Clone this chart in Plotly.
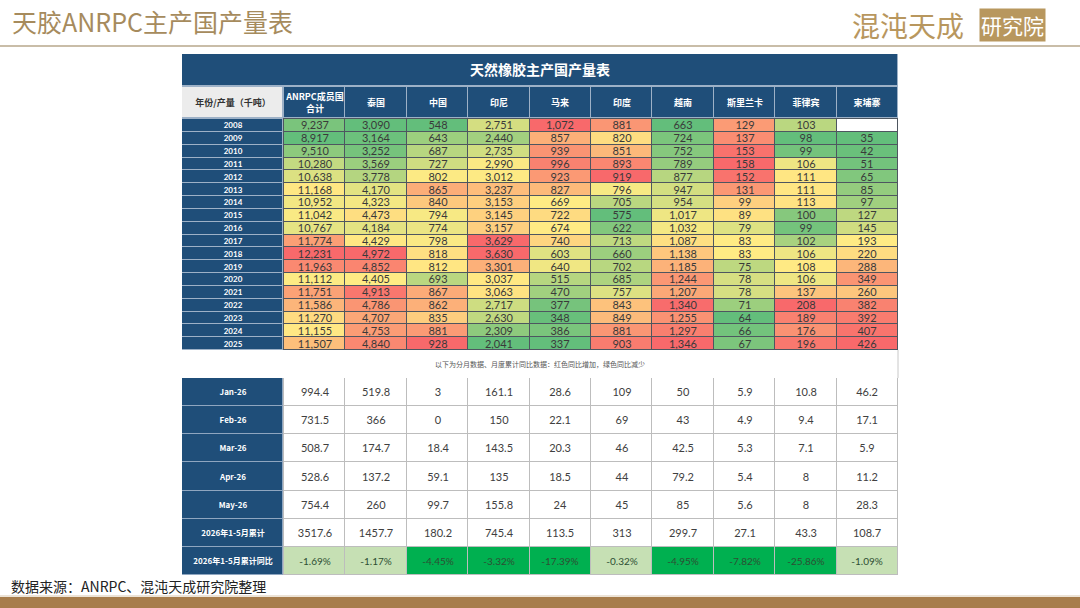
import numpy as np
import plotly.graph_objects as go

# ---- dados (mil toneladas) ----
paises = ["ANRPC成员国<br>合计", "泰国", "中国", "印尼", "马来", "印度", "越南", "斯里兰卡", "菲律宾", "柬埔寨"]
anos = [str(a) for a in range(2008, 2026)]

anrpc = [9237, 8917, 9510, 10280, 10638, 11168, 10952, 11042, 10767, 11774, 12231, 11963, 11112, 11751, 11586, 11270, 11155, 11507]
tailandia = [3090, 3164, 3252, 3569, 3778, 4170, 4323, 4473, 4184, 4429, 4972, 4852, 4405, 4913, 4786, 4707, 4753, 4840]
china = [548, 643, 687, 727, 802, 865, 840, 794, 774, 798, 818, 812, 693, 867, 862, 835, 881, 928]
indonesia = [2751, 2440, 2735, 2990, 3012, 3237, 3153, 3145, 3157, 3629, 3630, 3301, 3037, 3063, 2717, 2630, 2309, 2041]
malasia = [1072, 857, 939, 996, 923, 827, 669, 722, 674, 740, 603, 640, 515, 470, 377, 348, 386, 337]
india = [881, 820, 851, 893, 919, 796, 705, 575, 622, 713, 660, 702, 685, 757, 843, 849, 881, 903]
vietna = [663, 724, 752, 789, 877, 947, 954, 1017, 1032, 1087, 1138, 1185, 1244, 1207, 1340, 1255, 1297, 1346]
sri_lanka = [129, 137, 153, 158, 152, 131, 99, 89, 79, 83, 83, 75, 78, 78, 71, 64, 66, 67]
filipinas = [103, 98, 99, 106, 111, 111, 113, 100, 99, 102, 106, 108, 106, 137, 208, 189, 176, 196]
camboja = [None, 35, 42, 51, 65, 85, 97, 127, 145, 193, 220, 288, 349, 260, 382, 392, 407, 426]

colunas = [anrpc, tailandia, china, indonesia, malasia, india, vietna, sri_lanka, filipinas, camboja]

meses = ["Jan-26", "Feb-26", "Mar-26", "Apr-26", "May-26", "2026年1-5月累计"]
linha_yoy = "2026年1-5月累计同比"
mensal = [
    [994.4, 519.8, 3, 161.1, 28.6, 109, 50, 5.9, 10.8, 46.2],
    [731.5, 366, 0, 150, 22.1, 69, 43, 4.9, 9.4, 17.1],
    [508.7, 174.7, 18.4, 143.5, 20.3, 46, 42.5, 5.3, 7.1, 5.9],
    [528.6, 137.2, 59.1, 135, 18.5, 44, 79.2, 5.4, 8, 11.2],
    [754.4, 260, 99.7, 155.8, 24, 45, 85, 5.6, 8, 28.3],
    [3517.6, 1457.7, 180.2, 745.4, 113.5, 313, 299.7, 27.1, 43.3, 108.7],
]
yoy = [-1.69, -1.17, -4.45, -3.32, -17.39, -0.32, -4.95, -7.82, -25.86, -1.09]

nota = "以下为分月数据、月度累计同比数据：红色同比增加，绿色同比减少"

AZUL = "#1F4E79"
ESCALA = [[0, "#63BE7B"], [0.5, "#FFEB84"], [1, "#F8696B"]]
W, H = 1080, 608


def px_x(p):
    return p / W


def px_y(p):
    return 1 - p / H


def normaliza(col):
    # escala de 3 cores do Excel: min -> 0, mediana -> 0.5, max -> 1
    v = np.array([np.nan if c is None else c for c in col], dtype=float)
    lo, med, hi = np.nanmin(v), np.nanpercentile(v, 50), np.nanmax(v)
    return np.where(v <= med, 0.5 * (v - lo) / (med - lo), 0.5 + 0.5 * (v - med) / (hi - med))


n = len(paises)
z_anos = np.array([normaliza(c) for c in colunas]).T
txt_anos = [["" if colunas[j][i] is None else f"{colunas[j][i]:,}" for j in range(n)] for i in range(len(anos))]
z_vazio = np.array([[1 if colunas[j][i] is None else np.nan for j in range(n)] for i in range(len(anos))])

linhas_m = meses + [linha_yoy]
# valores mensais (última linha vazia) e linha de variação (demais vazias)
z_mensal = [[0] * n for _ in meses] + [[np.nan] * n]
txt_mensal = [[f"{v:g}" for v in linha] for linha in mensal] + [[""] * n]
z_yoy = [[np.nan] * n for _ in meses] + [[1 if v > -2 else 2 for v in yoy]]
txt_yoy = [[""] * n for _ in meses] + [[f"{v:.2f}%" for v in yoy]]

cjk = "Noto Sans CJK SC"
num = "Lato"


def bloco(z, x, y, text, xa, ya, escala, size, color, family, bold=False, zmin=0, zmax=1):
    return go.Heatmap(
        z=z, x=x, y=y, text=text, xaxis=xa, yaxis=ya,
        texttemplate="<b>%{text}</b>" if bold else "%{text}",
        textfont=dict(size=size, color=color, family=family),
        colorscale=escala, zmin=zmin, zmax=zmax, showscale=False,
        xgap=1, ygap=1, hoverinfo="skip",
    )


def uniforme(c):
    return [[0, c], [1, c]]


fig = go.Figure()
# faixa de título da tabela
fig.add_trace(bloco([[0]], ["t"], ["t"], [["天然橡胶主产国产量表"]], "x3", "y4",
                    uniforme(AZUL), 14, "white", cjk, bold=True))
# cabeçalho
fig.add_trace(bloco([[0] * n], paises, ["h"], [paises], "x", "y2",
                    uniforme(AZUL), 9, "white", cjk, bold=True))
fig.add_trace(bloco([[0]], ["r"], ["h"], [["年份/产量（千吨）"]], "x2", "y2",
                    uniforme("#ECECEC"), 9, "#333333", cjk, bold=True))
# anos
fig.add_trace(bloco([[0]] * len(anos), ["r"], anos, [[a] for a in anos], "x2", "y",
                    uniforme(AZUL), 8, "white", num, bold=True))
fig.add_trace(bloco(z_anos, paises, anos, txt_anos, "x", "y",
                    ESCALA, 11, "#3a3a3a", num))
fig.add_trace(bloco(z_vazio, paises, anos, None, "x", "y",
                    uniforme("white"), 11, "#3a3a3a", num))
# dados mensais
fig.add_trace(bloco(z_mensal, paises, linhas_m, txt_mensal, "x", "y3",
                    uniforme("white"), 11, "#404040", num))
fig.add_trace(bloco(z_yoy, paises, linhas_m, txt_yoy, "x", "y3",
                    [[0, "white"], [0.5, "#C6E0B4"], [1, "#00B050"]], 10, "#2d4f33", num, zmin=0, zmax=2))
fig.add_trace(bloco([[0]] * len(linhas_m), ["r"], linhas_m, [[m] for m in linhas_m], "x2", "y3",
                    uniforme(AZUL), 8, "white", cjk, bold=True))

eixo = dict(visible=False, fixedrange=True, type="category")
fig.update_layout(
    width=W, height=H,
    margin=dict(l=0, r=0, t=0, b=0),
    paper_bgcolor="white",
    plot_bgcolor="rgba(0,0,0,0)",
    xaxis=dict(eixo, domain=[px_x(284), px_x(898)], anchor="y"),
    xaxis2=dict(eixo, domain=[px_x(182), px_x(283)], anchor="y"),
    xaxis3=dict(eixo, domain=[px_x(182), px_x(898)], anchor="y4"),
    yaxis=dict(eixo, domain=[px_y(350), px_y(119)], anchor="x", autorange="reversed"),
    yaxis2=dict(eixo, domain=[px_y(118), px_y(87)], anchor="x"),
    yaxis3=dict(eixo, domain=[px_y(575), px_y(378)], anchor="x", autorange="reversed",
                categoryorder="array", categoryarray=linhas_m),
    yaxis4=dict(eixo, domain=[px_y(86), px_y(54)], anchor="x3"),
    showlegend=False,
)

# fundos que aparecem nas linhas entre células
fundos = [
    (182, 54, 898, 350, "#9DB1C7"),
    (283, 118, 898, 350, "#4E5660"),
    (182, 378, 898, 575, "#BDBDBD"),
    (182, 378, 283, 575, "#8FA6C0"),
]
for x0, y0, x1, y1, cor in fundos:
    fig.add_shape(type="rect", xref="paper", yref="paper", layer="below",
                  x0=px_x(x0), x1=px_x(x1), y0=px_y(y0), y1=px_y(y1),
                  fillcolor=cor, line_width=0)
fig.add_shape(type="line", xref="paper", yref="paper", x0=px_x(898), x1=px_x(898),
              y0=px_y(350), y1=px_y(378), line=dict(color="#C8C8C8", width=1))

# cabeçalho e rodapé da página
fig.add_shape(type="line", xref="paper", yref="paper", x0=0, x1=1, y0=px_y(46), y1=px_y(46),
              line=dict(color="#C9BDA8", width=2))
fig.add_shape(type="rect", xref="paper", yref="paper", x0=0, x1=1, y0=0, y1=px_y(597),
              fillcolor="#A77D4C", line_width=0)
fig.add_shape(type="line", xref="paper", yref="paper", x0=0, x1=1, y0=px_y(596), y1=px_y(596),
              line=dict(color="#D9C7AE", width=1))

fig.add_annotation(text="天胶ANRPC主产国产量表", xref="paper", yref="paper",
                   x=px_x(10), y=px_y(21), xanchor="left", yanchor="middle", showarrow=False,
                   font=dict(size=25, color="#A68B5D", family=cjk))
fig.add_annotation(text="混沌天成", xref="paper", yref="paper",
                   x=px_x(966), y=px_y(25), xanchor="right", yanchor="middle", showarrow=False,
                   font=dict(size=28, color="#B8975E", family=cjk))
fig.add_annotation(text="研究院", xref="paper", yref="paper",
                   x=px_x(1012), y=px_y(25), xanchor="center", yanchor="middle", showarrow=False,
                   bgcolor="#B8975E", borderpad=1,
                   font=dict(size=21, color="white", family=cjk))
fig.add_annotation(text=nota, xref="paper", yref="paper",
                   x=px_x(540), y=px_y(364), xanchor="center", yanchor="middle", showarrow=False,
                   font=dict(size=7, color="#555555", family=cjk))
fig.add_annotation(text="数据来源：ANRPC、混沌天成研究院整理", xref="paper", yref="paper",
                   x=px_x(9), y=px_y(586), xanchor="left", yanchor="middle", showarrow=False,
                   font=dict(size=14, color="#222222", family=cjk))

# sem margem do body, para a figura ocupar a janela inteira
fig.write_html("out.html", config={"displayModeBar": False},
               post_script="document.body.style.margin='0';")
